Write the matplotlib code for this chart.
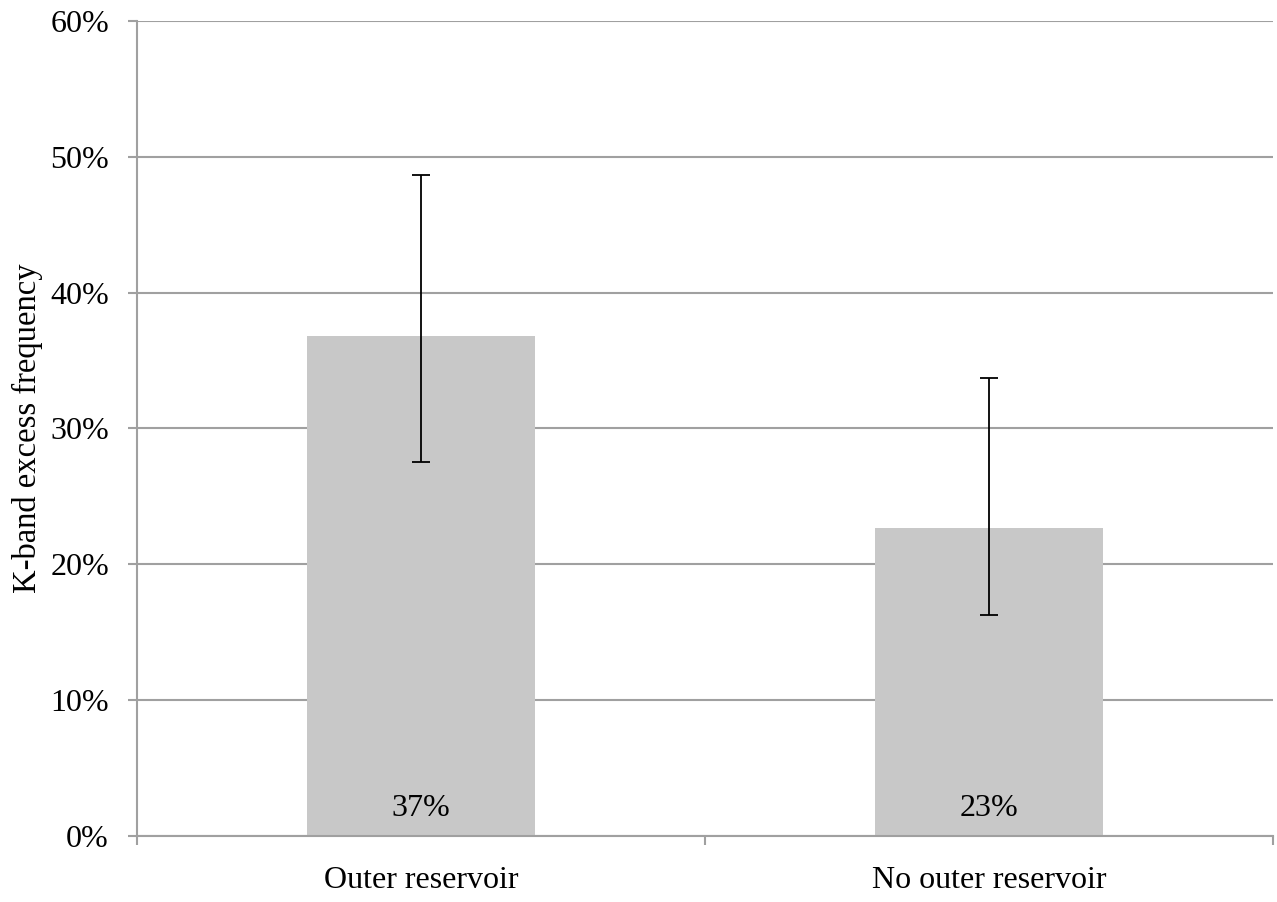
import matplotlib
matplotlib.use("Agg")
import matplotlib.pyplot as plt
from matplotlib.ticker import FuncFormatter

categories = ["Outer reservoir", "No outer reservoir"]
values = [36.8, 22.7]
err_upper = [48.65, 33.7]
err_lower = [27.5, 16.3]
value_labels = ["37%", "23%"]
yticks = [0, 10, 20, 30, 40, 50, 60]

plt.rcParams['font.family'] = ['Liberation Serif', 'DejaVu Serif']

fig = plt.figure(figsize=(12.77, 9.02), dpi=100)
ax = fig.add_axes([0.1073, 0.0732, 0.8896, 0.9035])

x = list(range(len(categories)))
yerr = [[v - lo for v, lo in zip(values, err_lower)],
        [hi - v for v, hi in zip(values, err_upper)]]

ax.set_axisbelow(True)
ax.yaxis.grid(True, color='#a0a0a0', linewidth=1.5)
ax.bar(x, values, width=0.4, color='#c8c8c8', zorder=2)
ax.errorbar(x, values, yerr=yerr, fmt='none', ecolor='black', elinewidth=1.3,
            capsize=6.2, capthick=1.3, zorder=3)

for xi, lab in zip(x, value_labels):
    ax.text(xi, 1.5, lab, ha='center', va='baseline', fontsize=23, zorder=4)

ax.set_xlim(-0.5, len(categories) - 0.5)
ax.set_ylim(0, 60)
ax.set_yticks(yticks)
ax.yaxis.set_major_formatter(FuncFormatter(lambda v, p: f"{int(v)}%"))
ax.set_xticks(x)
ax.set_xticklabels(categories, fontsize=23)
ax.set_xticks([-0.5 + i for i in range(len(categories) + 1)], minor=True)
ax.tick_params(axis='x', which='major', length=0, pad=21.5)
ax.tick_params(axis='x', which='minor', length=6.5, width=1.5, color='#a0a0a0', direction='out')
ax.tick_params(axis='y', labelsize=23, length=6.2, width=1.5, color='#a0a0a0', pad=14)

for s in ['top', 'right']:
    ax.spines[s].set_visible(False)
for s in ['left', 'bottom']:
    ax.spines[s].set_color('#a0a0a0')
    ax.spines[s].set_linewidth(1.5)

ax.set_ylabel("K-band excess frequency", fontsize=23.5, labelpad=5)

fig.savefig("out.png", dpi=100)
